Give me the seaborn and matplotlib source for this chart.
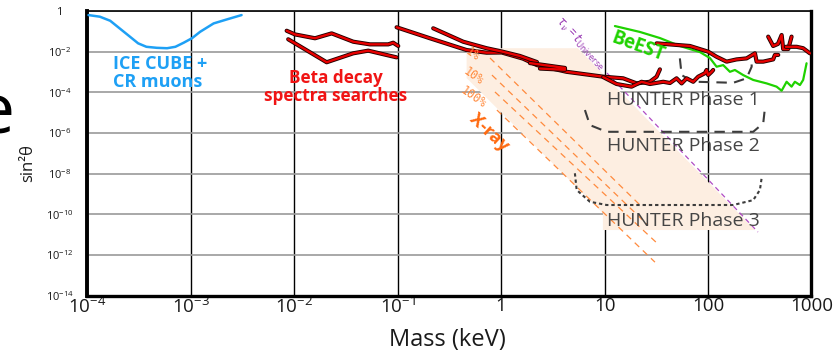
import numpy as np
import matplotlib
matplotlib.use('Agg')
import matplotlib.pyplot as plt
import matplotlib.patheffects as pe
import seaborn as sns

# all values are log10(mass / keV) and log10(sin^2 theta)
ice_logm = [-3.99, -3.88, -3.78, -3.69, -3.59, -3.51, -3.43, -3.33, -3.23, -3.15, -3.07, -2.99, -2.91, -2.78, -2.65, -2.51]
ice_logs = [-0.20, -0.28, -0.48, -0.85, -1.26, -1.59, -1.76, -1.81, -1.83, -1.76, -1.56, -1.34, -1.02, -0.61, -0.41, -0.20]

beta_up_logm = [-2.074, -1.994, -1.80, -1.639, -1.43, -1.269, -1.092, -1.044, -0.995]
beta_up_logs = [-0.97, -1.15, -1.34, -1.10, -1.51, -1.64, -1.64, -1.56, -1.72]
beta_lo_logm = [-2.059, -1.687, -1.43, -1.285, -1.011]
beta_lo_logs = [-1.39, -2.52, -2.08, -1.95, -2.28]

# red limit lines from 0.1 keV upwards
red_a_logm = [-1.011, -0.689, -0.334, -0.141, 0.005, 0.21, 0.346, 0.633, 0.987, 1.18, 1.31, 1.438, 1.503, 1.535]
red_a_logs = [-0.80, -1.34, -1.92, -2.05, -2.04, -2.34, -2.66, -2.99, -3.23, -3.31, -3.56, -3.48, -3.23, -2.87]
red_b_logm = [-0.657, -0.367, -0.141, 0.005, 0.181, 0.346]
red_b_logs = [-0.85, -1.51, -1.83, -1.99, -2.21, -2.51]
red_c_logm = [0.278, 0.617, 0.617, 0.375]
red_c_logs = [-2.56, -2.80, -2.89, -2.83]
red_d_logm = [0.987, 1.116, 1.261, 1.358, 1.438, 1.567, 1.632, 1.696, 1.745, 1.793, 1.857, 1.905, 1.970, 1.986, 2.002, 2.035, 2.05]
red_d_logs = [-3.25, -3.59, -3.72, -3.48, -3.59, -3.48, -3.54, -3.31, -3.56, -3.31, -3.48, -3.23, -3.06, -2.90, -3.15, -2.99, -2.90]
red_e_logm = [1.503, 1.825, 2.002, 2.083, 2.18, 2.276, 2.373, 2.454, 2.47, 2.534, 2.63, 2.647, 2.679]
red_e_logs = [-1.59, -1.72, -2.00, -2.25, -2.49, -2.38, -2.33, -2.08, -2.49, -2.49, -2.38, -2.16, -2.16]
red_f_logm = [2.582, 2.63, 2.676, 2.712, 2.727, 2.776, 2.808]
red_f_logs = [-1.26, -1.72, -1.62, -1.18, -1.87, -1.87, -1.26]
red_g_logm = [2.753, 2.857, 2.92, 2.985]
red_g_logs = [-1.76, -1.76, -1.83, -2.08]

beest_logm = [1.10, 1.342, 1.535, 1.728, 1.922, 2.018, 2.083, 2.147, 2.212, 2.26, 2.34, 2.437, 2.567, 2.663, 2.712, 2.76, 2.808, 2.84, 2.889, 2.92, 2.953]
beest_logs = [-0.74, -1.03, -1.33, -1.72, -2.02, -2.31, -2.74, -2.66, -2.99, -2.90, -3.15, -3.39, -3.56, -3.72, -3.92, -3.48, -3.72, -3.48, -3.64, -3.39, -2.57]

hunter1_logm = [1.728, 1.745, 1.825, 1.89, 2.244, 2.373, 2.422, 2.422]
hunter1_logs = [-2.33, -3.15, -3.39, -3.48, -3.53, -3.31, -2.74, -2.25]
hunter2_logm = [0.81, 0.858, 1.02, 2.437, 2.534, 2.55]
hunter2_logs = [-4.87, -5.61, -5.94, -5.94, -5.52, -4.79]
hunter3_logm = [0.713, 0.73, 0.858, 1.02, 2.244, 2.437, 2.502, 2.518]
hunter3_logs = [-7.98, -8.80, -9.38, -9.54, -9.54, -9.30, -8.80, -8.23]

xray_band_logm = [-0.334, 0.742, 2.454, 0.984, 0.984, -0.334]
xray_band_logs = [-1.83, -1.83, -10.77, -10.77, -9.94, -3.30]
xray_lines_logm = [[-0.108, 1.342], [-0.089, 1.419], [-0.060, 1.506], [-0.041, 1.487]]
xray_lines_logs = [[-2.31, -9.54], [-3.15, -10.53], [-3.98, -11.41], [-4.87, -12.35]]

tau_logm = [1.023, 2.483]
tau_logs = [-3.05, -10.87]

x_exps = [-4, -3, -2, -1, 0, 1, 2, 3]
x_labels = [r'$\mathregular{10^{-4}}$', r'$\mathregular{10^{-3}}$', r'$\mathregular{10^{-2}}$',
            r'$\mathregular{10^{-1}}$', '1', '10', '100', '1000']
y_exps = [0, -2, -4, -6, -8, -10, -12, -14]
y_labels = ['1'] + [r'$\mathregular{10^{%d}}$' % e for e in y_exps[1:]]


def p(v):
    return 10 ** np.array(v, dtype=float)


sns.set_theme(style='white')
plt.rcParams['font.family'] = ['Open Sans', 'DejaVu Sans']

fig = plt.figure(figsize=(8.33, 3.54), dpi=100)
ax = fig.add_axes([0.105, 0.1647, 0.8691, 0.8042])
ax.set_xscale('log')
ax.set_yscale('log')

# x-ray shaded band
ax.fill(p(xray_band_logm), p(xray_band_logs), color='#fdeee1', lw=0, zorder=1)
for lm, ls in zip(xray_lines_logm, xray_lines_logs):
    sns.lineplot(x=p(lm), y=p(ls), ax=ax, sort=False, estimator=None,
                 color='#ff8a3d', lw=0.9, linestyle=(0, (5, 4)), zorder=2)

sns.lineplot(x=p(tau_logm), y=p(tau_logs), ax=ax, sort=False, estimator=None,
             color='#b04cc4', lw=0.9, linestyle=(0, (4, 3)), zorder=2)

sns.lineplot(x=p(ice_logm), y=p(ice_logs), ax=ax, sort=False, estimator=None,
             color='#1ea0f5', lw=1.8, zorder=3)

sns.lineplot(x=p(beest_logm), y=p(beest_logs), ax=ax, sort=False, estimator=None,
             color='#1fd200', lw=1.6, zorder=3)

red_fx = [pe.Stroke(linewidth=3.0, foreground='#220000'), pe.Normal()]
red_sets = [(beta_up_logm, beta_up_logs), (beta_lo_logm, beta_lo_logs),
            (red_a_logm, red_a_logs), (red_b_logm, red_b_logs), (red_c_logm, red_c_logs),
            (red_d_logm, red_d_logs), (red_e_logm, red_e_logs), (red_f_logm, red_f_logs),
            (red_g_logm, red_g_logs)]
for lm, ls in red_sets:
    sns.lineplot(x=p(lm), y=p(ls), ax=ax, sort=False, estimator=None,
                 color='#e80000', lw=1.7, path_effects=red_fx, zorder=4)

sns.lineplot(x=p(hunter1_logm), y=p(hunter1_logs), ax=ax, sort=False, estimator=None,
             color='#3c3c3c', lw=1.5, linestyle=(0, (5, 3.5)), zorder=3)
sns.lineplot(x=p(hunter2_logm), y=p(hunter2_logs), ax=ax, sort=False, estimator=None,
             color='#3c3c3c', lw=1.5, linestyle=(0, (5, 3.5)), zorder=3)
sns.lineplot(x=p(hunter3_logm), y=p(hunter3_logs), ax=ax, sort=False, estimator=None,
             color='#3c3c3c', lw=1.5, linestyle=(0, (1.6, 1.4)), zorder=3)

ax.set_xlim(1e-4, 1e3)
ax.set_ylim(1e-14, 1)
ax.set_xticks(p(x_exps))
ax.set_xticklabels(x_labels, fontsize=13.5)
ax.set_yticks(p(y_exps))
ax.set_yticklabels(y_labels, fontsize=8)
ax.minorticks_off()
for lbl in ax.get_yticklabels():
    lbl.set_horizontalalignment('center')
ax.tick_params(axis='x', length=0, pad=1, colors='#1a1a1a')
ax.tick_params(axis='y', length=0, pad=20, colors='#1a1a1a')
ax.grid(axis='x', color='black', lw=1.0)
ax.grid(axis='y', color='#9a9a9a', lw=1.2)
ax.set_axisbelow(True)
ax.set_xlabel('')
ax.set_ylabel('')
for side, w in [('left', 2.8), ('bottom', 2.4), ('right', 2.4), ('top', 1.2)]:
    ax.spines[side].set_visible(True)
    ax.spines[side].set_color('black')
    ax.spines[side].set_linewidth(w)

# annotations
ax.text(p(-3.753), p(-3.05), 'ICE CUBE +\nCR muons', color='#1ea0f5', fontsize=13,
        fontweight='bold', ha='left', va='center', linespacing=0.95)
ax.text(p(-1.602), p(-3.74), 'Beta decay\nspectra searches', color='#f01414', fontsize=12.3,
        fontweight='bold', ha='center', va='center', linespacing=0.95)
ax.text(p(1.322), p(-1.77), 'BeEST', color='#1fd200', fontsize=13.5, fontweight='bold',
        ha='center', va='center', rotation=-20, rotation_mode='anchor', zorder=5)
ax.text(p(-0.118), p(-5.95), 'X-ray', color='#ff6a10', fontsize=13, fontweight='bold',
        ha='center', va='center', rotation=-43, rotation_mode='anchor')
for lab, ls in zip(['1%', '10%', '100%'], [-2.12, -3.20, -4.23]):
    ax.text(p(-0.273), p(ls), lab, color='#ff8a3d', fontsize=8.5, ha='center', va='center',
            rotation=-35, rotation_mode='anchor', family=['DejaVu Sans Mono', 'DejaVu Sans'],
            zorder=5)
ax.text(p(0.762), p(-1.57), r'$\tau_\nu$ = $t_{\mathrm{Universe}}$', color='#9a3cb4', fontsize=8.5,
        ha='center', va='center', rotation=-47, rotation_mode='anchor')
for lab, ls in zip(['HUNTER Phase 1', 'HUNTER Phase 2', 'HUNTER Phase 3'], [-4.38, -6.64, -10.33]):
    ax.text(p(1.023), p(ls), lab, color='#454545', fontsize=14, ha='left', va='center', zorder=5)

fig.text(0.034, 0.54, 'sin²θ', fontsize=12, rotation=90, ha='center', va='center', color='#1a1a1a')
fig.text(0.537, 0.04, 'Mass (keV)', fontsize=17, ha='center', va='center', color='#1a1a1a')
fig.text(-0.007, 0.624, 'e', fontsize=50, ha='center', va='baseline', color='black')

fig.savefig('out.png', dpi=100)
